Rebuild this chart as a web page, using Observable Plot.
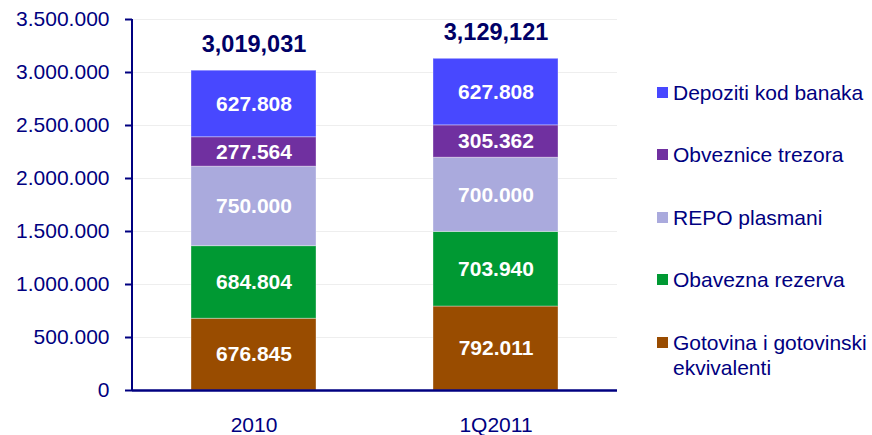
<!DOCTYPE html>
<html>
<head>
<meta charset="utf-8">
<script src="https://cdn.jsdelivr.net/npm/d3@7"></script>
<script src="https://cdn.jsdelivr.net/npm/@observablehq/plot@0.6"></script>
<style>
  body { margin: 0; background: #fff; }
  #wrap { position: relative; width: 872px; height: 435px; font-family: "Liberation Sans", Arial, sans-serif; }
  #legend { position: absolute; left: 657px; top: 0; }
  .li { position: absolute; left: 0; display: flex; align-items: flex-start; color: #000080; font-size: 21px; line-height: 25px; white-space: nowrap; }
  .sw { width: 11px; height: 11px; margin-top: 7px; margin-right: 5px; flex: none; }
</style>
</head>
<body>
<div id="wrap"><div id="legend"></div></div>
<script>
const periods = ["2010", "1Q2011"];
const seriesNames = ["Gotovina i gotovinski ekvivalenti", "Obavezna rezerva", "REPO plasmani", "Obveznice trezora", "Depoziti kod banaka"];
const colors = ["#994C00", "#009933", "#AAAADD", "#7030A0", "#4848FF"];
const values2010 = [676845, 684804, 750000, 277564, 627808];
const values1Q2011 = [792011, 703940, 700000, 305362, 627808];
const totals = [3019031, 3129121];
const yTicks = [0, 500000, 1000000, 1500000, 2000000, 2500000, 3000000, 3500000];
const legendOrder = ["Depoziti kod banaka", "Obveznice trezora", "REPO plasmani", "Obavezna rezerva", "Gotovina i gotovinski\nekvivalenti"];

const rows = [];
[values2010, values1Q2011].forEach((vals, pi) => {
  vals.forEach((v, si) => rows.push({period: periods[pi], series: seriesNames[si], value: v}));
});
const totalRows = periods.map((p, i) => ({period: p, total: totals[i]}));

const dotFmt = d3.formatLocale({decimal: ",", thousands: ".", grouping: [3], currency: ["", ""]}).format(",d");
const commaFmt = d3.format(",d");
const font = "Liberation Sans, Arial, sans-serif";

const yAxisLine = (index, scales, values, dims) => {
  const svg = d3.create("svg:g");
  svg.append("line")
    .attr("x1", dims.marginLeft).attr("x2", dims.marginLeft)
    .attr("y1", scales.y(3500000)).attr("y2", scales.y(0))
    .attr("stroke", "#000080").attr("stroke-width", 2);
  return svg.node();
};

const chart = Plot.plot({
  width: 872,
  height: 435,
  marginLeft: 132,
  marginRight: 255,
  marginTop: 19,
  marginBottom: 45,
  style: {fontFamily: font, background: "transparent"},
  x: {domain: periods, paddingInner: 0.485, paddingOuter: 0.2425, align: 0.5},
  y: {domain: [0, 3500000]},
  color: {domain: seriesNames, range: colors},
  marks: [
    Plot.gridY(yTicks, {stroke: "#eeeeee", strokeOpacity: 1}),
    Plot.barY(rows, Plot.stackY({x: "period", y: "value", fill: "series", order: seriesNames, stroke: "#ffffff", strokeOpacity: 0.35, strokeWidth: 1})),
    Plot.text(rows, Plot.stackY({x: "period", y: "value", z: "series", order: seriesNames, text: d => dotFmt(d.value), fill: "white", fontWeight: "bold", fontSize: 21})),
    Plot.text(totalRows, {x: "period", y: "total", text: d => commaFmt(d.total), dy: -26, fill: "#000066", fontWeight: "bold", fontSize: 23.5}),
    Plot.axisY({ticks: yTicks, tickFormat: dotFmt, tickSize: 7, tickPadding: 16, stroke: "#000080", strokeWidth: 2, color: "#000080", fontSize: 21, label: null}),
    Plot.axisX({tickSize: 0, tickPadding: 27, color: "#000080", fontSize: 21, label: null}),
    yAxisLine,
    Plot.ruleY([0], {stroke: "#000080", strokeWidth: 2.5})
  ]
});
d3.select(chart).style("position", "absolute").style("left", "0").style("top", "0");
document.getElementById("wrap").prepend(chart);

const legendTops = [80, 142, 205, 267, 330];
const leg = document.getElementById("legend");
legendOrder.forEach((name, i) => {
  const key = name.replace("\n", " ");
  const idx = seriesNames.indexOf(key);
  const item = document.createElement("div");
  item.className = "li";
  item.style.top = legendTops[i] + "px";
  const sw = document.createElement("div");
  sw.className = "sw";
  sw.style.background = colors[idx];
  const tx = document.createElement("div");
  tx.style.whiteSpace = "pre";
  tx.textContent = name;
  item.appendChild(sw);
  item.appendChild(tx);
  leg.appendChild(item);
});
</script>
</body>
</html>
